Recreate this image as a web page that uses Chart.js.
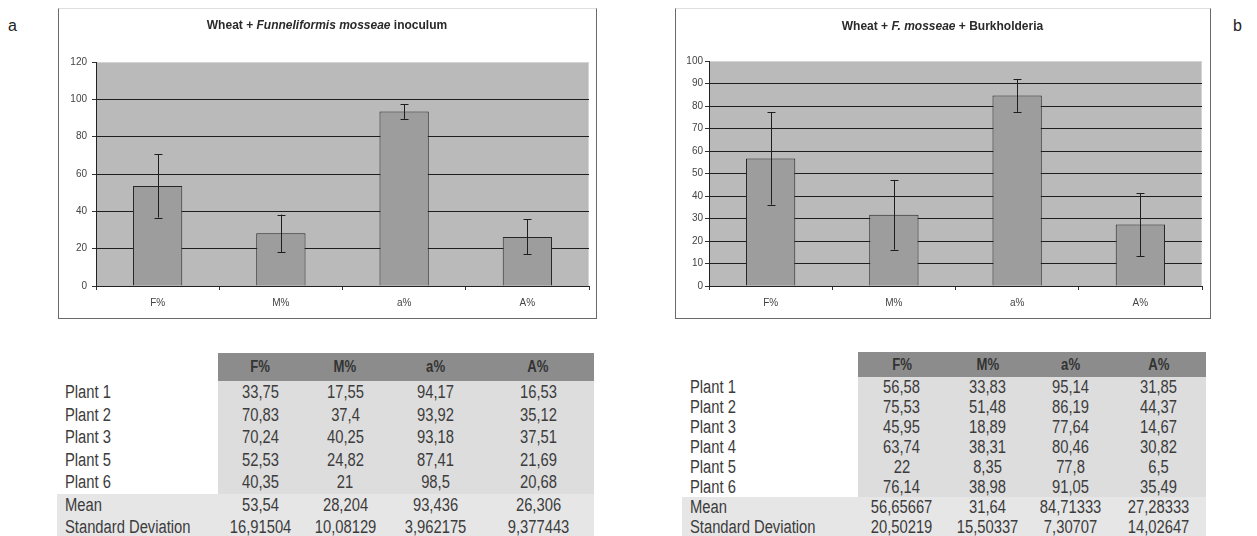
<!DOCTYPE html>
<html lang="en">
<head>
    <meta charset="UTF-8" />
    <title>Wheat mycorrhization charts</title>
    <style>
        body { margin: 0; background: #fff; width: 1257px; height: 536px; position: relative; overflow: hidden; font-family: Arial, "Liberation Sans", sans-serif; }
        .box { position: absolute; border: 1px solid #6a6a6a; border-top-color: #dedede; box-sizing: border-box; }
        .chart { position: absolute; }
        .title { position: absolute; text-align: center; font-weight: bold; font-size: 12px; color: #2a2a2a; line-height: 16px; }
        .panel { position: absolute; font-size: 16px; color: #222; }
        table.data { position: absolute; border-collapse: collapse; table-layout: fixed; font-family: Arial, "Liberation Sans", sans-serif; color: #3c3c3c; }
        table.data td { padding: 0; text-align: center; white-space: nowrap; overflow: visible; }
        table.data td span { display: inline-block; transform: scaleX(0.82); transform-origin: 50% 50%; }
        table.data td.lbl { text-align: left; padding-left: 8px; }
        table.data td.lbl span { transform-origin: 0 50%; }
        table.data tr.head td { background: #8c8c8c; font-weight: bold; color: #333; }
        table.data tr.head td.lbl { background: transparent; }
        table.data tr.plant td { background: #dddddd; }
        table.data tr.plant td.lbl { background: #fff; }
        table.data tr.stat td { background: #e6e6e6; }
    </style>
    <script src="https://cdn.jsdelivr.net/npm/chart.js"></script>
</head>
<body>
    <div class="panel" style="left:8px; top:17px;">a</div>
    <div class="panel" style="left:1233px; top:17px;">b</div>

    <div class="box" style="left:58px; top:8px; width:539px; height:311px;"></div>
    <canvas id="chartA" class="chart" width="538" height="310" style="left:58px; top:8px;"></canvas>
    <div class="title" style="left:58px; top:17px; width:538px;">Wheat + <i>Funneliformis mosseae</i> inoculum</div>

    <div class="box" style="left:675px; top:8px; width:536px; height:311px;"></div>
    <canvas id="chartB" class="chart" width="535" height="310" style="left:675px; top:8px;"></canvas>
    <div class="title" style="left:675px; top:18px; width:535px;">Wheat + <i>F. mosseae</i> + Burkholderia</div>

    <table id="tableA" class="data"></table>
    <table id="tableB" class="data"></table>

    <script>
        const categories = ['F%', 'M%', 'a%', 'A%'];

        // panel a: Wheat + Funneliformis mosseae inoculum
        const plantsA = ['Plant 1', 'Plant 2', 'Plant 3', 'Plant 5', 'Plant 6'];
        const plant1A = [33.75, 17.55, 94.17, 16.53];
        const plant2A = [70.83, 37.4, 93.92, 35.12];
        const plant3A = [70.24, 40.25, 93.18, 37.51];
        const plant5A = [52.53, 24.82, 87.41, 21.69];
        const plant6A = [40.35, 21, 98.5, 20.68];
        const meanA = [53.54, 28.204, 93.436, 26.306];
        const sdA = [16.91504, 10.08129, 3.962175, 9.377443];
        const yTicksA = { max: 120, step: 20 };

        // panel b: Wheat + F. mosseae + Burkholderia
        const plantsB = ['Plant 1', 'Plant 2', 'Plant 3', 'Plant 4', 'Plant 5', 'Plant 6'];
        const plant1B = [56.58, 33.83, 95.14, 31.85];
        const plant2B = [75.53, 51.48, 86.19, 44.37];
        const plant3B = [45.95, 18.89, 77.64, 14.67];
        const plant4B = [63.74, 38.31, 80.46, 30.82];
        const plant5B = [22, 8.35, 77.8, 6.5];
        const plant6B = [76.14, 38.98, 91.05, 35.49];
        const meanB = [56.65667, 31.64, 84.71333, 27.28333];
        const sdB = [20.50219, 15.50337, 7.30707, 14.02647];
        const yTicksB = { max: 100, step: 10 };

        // grey plot background, drawn before anything else
        const plotBg = {
            id: 'plotBg',
            beforeDraw(chart) {
                const { ctx, chartArea: a } = chart;
                ctx.save();
                ctx.fillStyle = '#bababa';
                ctx.fillRect(a.left, a.top, a.right - a.left, a.bottom - a.top);
                ctx.strokeStyle = '#d4d4d4';
                ctx.lineWidth = 1;
                ctx.strokeRect(a.left + 0.5, a.top + 0.5, a.right - a.left - 1, a.bottom - a.top);
                ctx.restore();
            }
        };

        // +/- one standard deviation whiskers
        const errorBars = {
            id: 'errorBars',
            afterDatasetsDraw(chart, args, opts) {
                const { ctx } = chart;
                const y = chart.scales.y;
                const meta = chart.getDatasetMeta(0);
                ctx.save();
                ctx.strokeStyle = '#1e1e1e';
                ctx.lineWidth = 1;
                meta.data.forEach((bar, i) => {
                    const m = chart.data.datasets[0].data[i];
                    const top = y.getPixelForValue(m + opts.sd[i]);
                    const bot = y.getPixelForValue(m - opts.sd[i]);
                    const x = Math.round(bar.x) + 0.5;
                    ctx.beginPath();
                    ctx.moveTo(x, top); ctx.lineTo(x, bot);
                    ctx.moveTo(x - 4, Math.round(top) + 0.5); ctx.lineTo(x + 4, Math.round(top) + 0.5);
                    ctx.moveTo(x - 4, Math.round(bot) + 0.5); ctx.lineTo(x + 4, Math.round(bot) + 0.5);
                    ctx.stroke();
                });
                ctx.restore();
            }
        };

        function makeChart(id, means, sds, yt, pad, yWidth, yPad) {
            return new Chart(document.getElementById(id), {
                type: 'bar',
                data: {
                    labels: categories,
                    datasets: [{
                        data: means,
                        backgroundColor: '#9d9d9d',
                        borderColor: '#262626',
                        borderWidth: 1,
                        categoryPercentage: 1,
                        barPercentage: 0.4
                    }]
                },
                options: {
                    responsive: false,
                    animation: false,
                    layout: { padding: pad },
                    plugins: { legend: { display: false }, tooltip: { enabled: false }, errorBars: { sd: sds } },
                    scales: {
                        x: {
                            grid: { offset: true, drawOnChartArea: false, tickLength: 4, color: '#333' },
                            border: { color: '#222', width: 1 },
                            ticks: { color: '#444', padding: 7, font: { family: 'Arial', size: 10 } },
                            afterFit: s => { s.height = 32; }
                        },
                        y: {
                            min: 0, max: yt.max,
                            grid: {
                                color: c => (c.tick && c.tick.value === yt.max) ? 'rgba(0,0,0,0)' : '#1e1e1e',
                                tickColor: '#333',
                                tickLength: 4
                            },
                            border: { color: '#222', width: 1 },
                            ticks: { stepSize: yt.step, color: '#444', padding: yPad, font: { family: 'Arial', size: 10 } },
                            afterFit: s => { s.width = yWidth; }
                        }
                    }
                },
                plugins: [plotBg, errorBars]
            });
        }

        makeChart('chartA', meanA, sdA, yTicksA, { left: 0, right: 7, top: 54, bottom: 0 }, 38, 5);
        makeChart('chartB', meanB, sdB, yTicksB, { left: 0, right: 8, top: 53, bottom: 0 }, 34, 2);

        // tables under the charts (numbers shown with decimal commas, as in the source)
        const fmt = v => String(v).replace('.', ',');

        function buildTable(id, plants, rows, mean, sd, pos) {
            const t = document.getElementById(id);
            t.style.left = pos.left + 'px';
            t.style.top = pos.top + 'px';
            let html = '<colgroup>' + pos.cols.map(w => `<col style="width:${w}px">`).join('') + '</colgroup>';
            const cell = (h, size, txt, cls) =>
                `<td${cls ? ' class="' + cls + '"' : ''} style="height:${h}px; line-height:${h}px; font-size:${size}px"><span>${txt}</span></td>`;
            html += '<tr class="head">' + cell(pos.headH, pos.headFont, '', 'lbl') +
                categories.map(c => cell(pos.headH, pos.headFont, c)).join('') + '</tr>';
            plants.forEach((p, i) => {
                html += '<tr class="plant">' + cell(pos.rowH, pos.font, p, 'lbl') +
                    rows[i].map(v => cell(pos.rowH, pos.font, fmt(v))).join('') + '</tr>';
            });
            html += '<tr class="stat">' + cell(pos.rowH, pos.font, 'Mean', 'lbl') +
                mean.map(v => cell(pos.rowH, pos.font, fmt(v))).join('') + '</tr>';
            html += '<tr class="stat">' + cell(pos.rowH, pos.font, 'Standard Deviation', 'lbl') +
                sd.map(v => cell(pos.rowH, pos.font, fmt(v))).join('') + '</tr>';
            t.innerHTML = html;
        }

        buildTable('tableA', plantsA, [plant1A, plant2A, plant3A, plant5A, plant6A], meanA, sdA,
            { left: 57, top: 353, cols: [159, 84, 86, 94, 112], headH: 28, rowH: 22.5, font: 18, headFont: 16 });
        buildTable('tableB', plantsB, [plant1B, plant2B, plant3B, plant4B, plant5B, plant6B], meanB, sdB,
            { left: 682, top: 352, cols: [176, 88, 84, 82, 94], headH: 25, rowH: 20, font: 18, headFont: 16 });
    </script>
</body>
</html>
